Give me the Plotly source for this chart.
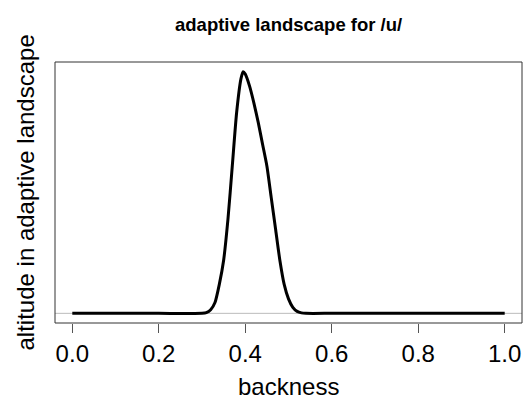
import plotly.graph_objects as go

backness = [0.0, 0.1, 0.2, 0.3, 0.31, 0.32, 0.33, 0.34, 0.35, 0.36, 0.37, 0.38, 0.39, 0.395,
            0.40, 0.41, 0.42, 0.43, 0.44, 0.45, 0.46, 0.47, 0.48, 0.49, 0.50, 0.51, 0.52,
            0.53, 0.54, 0.6, 0.7, 0.8, 0.9, 1.0]
altitude = [0, 0, 0, 0, 0.003, 0.015, 0.045, 0.12, 0.22, 0.39, 0.61, 0.83, 0.97, 1.0,
            0.99, 0.94, 0.87, 0.79, 0.70, 0.61, 0.48, 0.35, 0.22, 0.12, 0.06, 0.025, 0.008,
            0.002, 0, 0, 0, 0, 0, 0]
x_ticks = [0.0, 0.2, 0.4, 0.6, 0.8, 1.0]
x_tick_labels = ["0.0", "0.2", "0.4", "0.6", "0.8", "1.0"]

font = "Liberation Sans, Arial, Helvetica, sans-serif"

fig = go.Figure()
fig.add_trace(go.Scatter(x=backness, y=altitude, mode="lines",
                         line=dict(color="black", width=3, shape="spline", smoothing=0.6),
                         hoverinfo="skip", showlegend=False))

fig.add_shape(type="line", xref="paper", yref="y", x0=0, x1=1, y0=0, y1=0,
              line=dict(color="#bbbbbb", width=1), layer="below")
fig.add_shape(type="rect", xref="paper", yref="paper", x0=0, x1=1, y0=0, y1=1,
              line=dict(color="#333333", width=1))

fig.update_layout(
    width=525, height=399,
    margin=dict(l=55, r=3, t=62, b=76),
    paper_bgcolor="white", plot_bgcolor="white",
    font=dict(family=font, color="black"),
    xaxis=dict(range=[-0.04, 1.04], tickvals=x_ticks, ticktext=x_tick_labels,
               ticks="outside", ticklen=9, tickcolor="#555555", tickwidth=1,
               tickfont=dict(size=24), showgrid=False, zeroline=False, showline=False),
    yaxis=dict(range=[-0.04, 1.04], showticklabels=False, ticks="", showgrid=False,
               zeroline=False, showline=False),
    annotations=[
        dict(text="<b>adaptive landscape for /u/</b>", xref="paper", yref="paper",
             x=0.5, y=1, yshift=38, showarrow=False, font=dict(size=18.5),
             xanchor="center", yanchor="middle"),
        dict(text="backness", xref="paper", yref="paper", x=0.5, y=0, yshift=-63,
             showarrow=False, font=dict(size=24), xanchor="center", yanchor="middle"),
        dict(text="altitude in adaptive landscape", xref="paper", yref="paper",
             x=0, y=0.5, xshift=-30, textangle=-90, showarrow=False,
             font=dict(size=24), xanchor="center", yanchor="middle"),
    ],
)

fig.write_html("out.html")
